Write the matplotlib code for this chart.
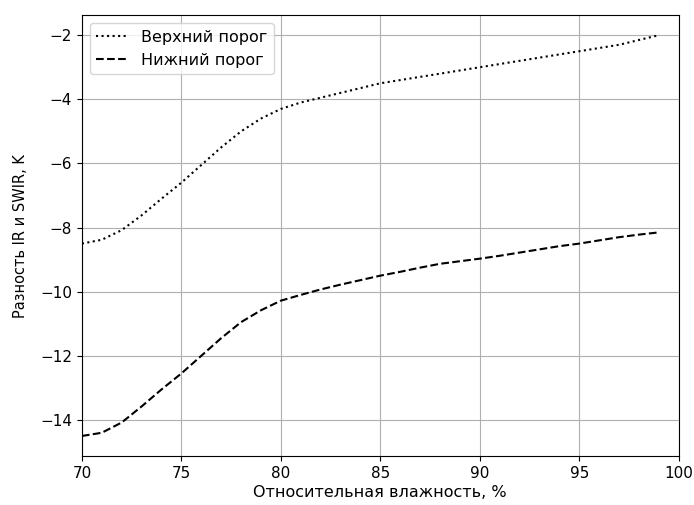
import matplotlib
matplotlib.use("Agg")
import matplotlib.pyplot as plt

humidity = list(range(70, 100))
upper = [-8.5, -8.38, -8.08, -7.62, -7.1, -6.6, -6.05, -5.5, -5.0, -4.6,
         -4.3, -4.1, -3.95, -3.8, -3.65, -3.5, -3.4, -3.3, -3.2, -3.1,
         -3.0, -2.9, -2.8, -2.7, -2.6, -2.5, -2.4, -2.3, -2.15, -2.0]
lower = [-14.5, -14.4, -14.08, -13.58, -13.05, -12.55, -12.0, -11.45, -10.95, -10.58,
         -10.28, -10.1, -9.93, -9.78, -9.64, -9.5, -9.38, -9.25, -9.13, -9.05,
         -8.97, -8.88, -8.78, -8.68, -8.58, -8.5, -8.4, -8.3, -8.22, -8.15]

fig = plt.figure(figsize=(6.94, 5.05), dpi=100)
ax = fig.add_axes([0.118, 0.097, 0.860, 0.873])
ax.plot(humidity, upper, color="black", linestyle=":", linewidth=1.5, label="Верхний порог")
ax.plot(humidity, lower, color="black", linestyle="--", linewidth=1.5, label="Нижний порог")
ax.set_xlim(70, 100)
ax.set_xlabel("Относительная влажность, %", fontsize=11.5, labelpad=3)
ax.set_ylabel("Разность IR и SWIR, K", fontsize=10.5, labelpad=9)
ax.tick_params(labelsize=11)
ax.grid(True, color="#b0b0b0", linewidth=0.8)
ax.legend(loc="upper left", fontsize=11.5)
fig.savefig("out.png", dpi=100)
